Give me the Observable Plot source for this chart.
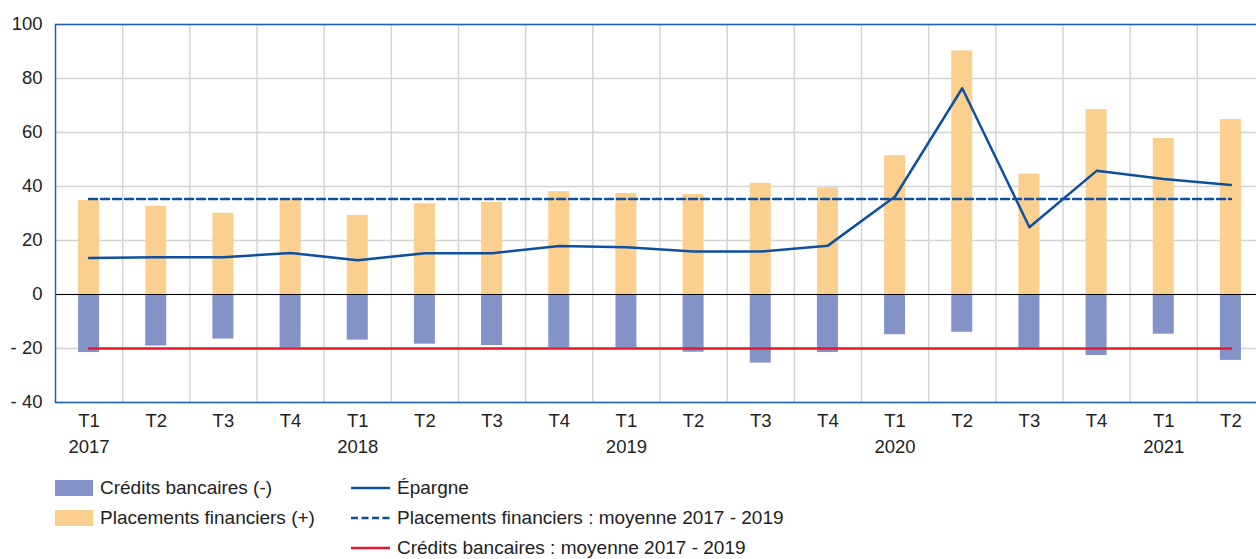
<!DOCTYPE html>
<html><head><meta charset="utf-8">
<script src="https://cdn.jsdelivr.net/npm/d3@7"></script>
<script src="https://cdn.jsdelivr.net/npm/@observablehq/plot@0.6"></script>
<style>
body{margin:0;overflow:hidden;background:#fff;font-family:"Liberation Sans",Arial,sans-serif;}
#wrap{position:relative;width:1270px;height:559px;}
#chart{position:absolute;left:0;top:0;}
.item{position:absolute;font-size:19px;color:#222;height:20px;line-height:20px;white-space:nowrap;}
.sw{position:absolute;width:38px;height:16px;}
</style></head><body><div id="wrap"><div id="chart"></div><div id="legend"></div></div>
<script>
const periods = ["2017T1","2017T2","2017T3","2017T4","2018T1","2018T2","2018T3","2018T4","2019T1","2019T2","2019T3","2019T4","2020T1","2020T2","2020T3","2020T4","2021T1","2021T2"];
const quarterLabels = ["T1","T2","T3","T4","T1","T2","T3","T4","T1","T2","T3","T4","T1","T2","T3","T4","T1","T2"];
const yearLabels = ["2017","","","","2018","","","","2019","","","","2020","","","","2021",""];
const placements = [34.8,32.7,30.1,35.1,29.3,33.6,34.1,38.1,37.4,37.0,41.2,39.5,51.4,90.2,44.6,68.5,57.8,64.8];
const credits = [-21.5,-19.1,-16.5,-19.8,-16.9,-18.4,-18.9,-19.8,-19.8,-21.4,-25.4,-21.5,-14.9,-14.0,-19.8,-22.6,-14.7,-24.4];
const epargne = [13.5,13.8,13.8,15.4,12.7,15.3,15.3,18.0,17.5,15.9,15.9,18.1,36.3,76.4,24.9,45.8,42.8,40.6];
const avgPlacements = 35.4;
const avgCredits = -20;
const yTicks = [-40,-20,0,20,40,60,80,100];

const C = {orange:"#fbcf8d", blueBar:"#8393c7", line:"#0f4f9f", red:"#e8192c", frame:"#1f5fae", grid:"#d4d4d4", text:"#222"};

const W = 1270, ML = 55, MR = 6;
const band = (W - ML - MR) / periods.length;
const inset = (band - 21) / 2;

const rows = periods.map((p, i) => ({p, placement: placements[i], credit: credits[i], epargne: epargne[i], avgP: avgPlacements, avgC: avgCredits}));
const qLab = Object.fromEntries(periods.map((p, i) => [p, quarterLabels[i]]));
const yLab = Object.fromEntries(periods.map((p, i) => [p, yearLabels[i]]));

const chart = Plot.plot({
  width: W, height: 470,
  marginLeft: ML, marginRight: MR, marginTop: 24, marginBottom: 68,
  style: {fontSize: "18.5px", fontFamily: "'Liberation Sans', Arial, sans-serif", color: C.text, background: "#fff"},
  x: {type: "band", domain: periods, paddingInner: 0, paddingOuter: 0, round: false},
  y: {domain: [-40, 100]},
  marks: [
    Plot.ruleY(yTicks, {stroke: C.grid, strokeWidth: 1.5}),
    Plot.ruleX(periods.slice(1), {stroke: C.grid, strokeWidth: 1.5, dx: -band / 2}),
    Plot.barY(rows, {x: "p", y: "placement", fill: C.orange, insetLeft: inset, insetRight: inset}),
    Plot.barY(rows, {x: "p", y: "credit", fill: C.blueBar, insetLeft: inset, insetRight: inset}),
    Plot.ruleY([0], {stroke: "#000", strokeWidth: 1}),
    Plot.lineY(rows, {x: "p", y: "avgP", stroke: C.line, strokeWidth: 2.5, strokeDasharray: "8,4"}),
    Plot.lineY(rows, {x: "p", y: "avgC", stroke: C.red, strokeWidth: 2.5}),
    Plot.lineY(rows, {x: "p", y: "epargne", stroke: C.line, strokeWidth: 2.5}),
    Plot.frame({stroke: C.frame, strokeWidth: 1.5}),
    Plot.axisY({ticks: yTicks, tickSize: 0, tickPadding: 13, label: null, tickFormat: d => d < 0 ? "- " + Math.abs(d) : String(d)}),
    Plot.axisX({tickSize: 0, tickPadding: 11, label: null, tickFormat: d => qLab[d]}),
    Plot.axisX({ticks: periods.filter((p, i) => yearLabels[i]), tickSize: 0, tickPadding: 37, label: null, tickFormat: d => yLab[d]})
  ]
});
document.getElementById("chart").appendChild(chart);

const legendItems = [
  {type: "sw", color: C.blueBar, label: "Crédits bancaires (-)", x: 55, y: 480},
  {type: "sw", color: C.orange, label: "Placements financiers (+)", x: 55, y: 510},
  {type: "ln", color: C.line, dash: null, label: "Épargne", x: 351, y: 480},
  {type: "ln", color: C.line, dash: "7,3.5", label: "Placements financiers : moyenne 2017 - 2019", x: 351, y: 510},
  {type: "ln", color: C.red, dash: null, label: "Crédits bancaires : moyenne 2017 - 2019", x: 351, y: 540}
];
const lg = document.getElementById("legend");
const NS = "http://www.w3.org/2000/svg";
for (const it of legendItems) {
  let m;
  if (it.type === "sw") {
    m = document.createElement("div");
    m.className = "sw";
    m.style.left = it.x + "px"; m.style.top = it.y + "px"; m.style.background = it.color;
  } else {
    m = document.createElementNS(NS, "svg");
    m.setAttribute("width", 40); m.setAttribute("height", 6);
    m.style.position = "absolute";
    m.style.left = it.x + "px"; m.style.top = (it.y + 5) + "px";
    const l = document.createElementNS(NS, "line");
    l.setAttribute("x1", 0); l.setAttribute("x2", 39); l.setAttribute("y1", 3); l.setAttribute("y2", 3);
    l.setAttribute("stroke", it.color); l.setAttribute("stroke-width", 2.5);
    if (it.dash) l.setAttribute("stroke-dasharray", it.dash);
    m.appendChild(l);
  }
  lg.appendChild(m);
  const t = document.createElement("div");
  t.className = "item";
  t.textContent = it.label;
  t.style.left = (it.type === "sw" ? it.x + 45 : it.x + 46) + "px";
  t.style.top = (it.y - 2) + "px";
  lg.appendChild(t);
}
</script>
</body></html>
